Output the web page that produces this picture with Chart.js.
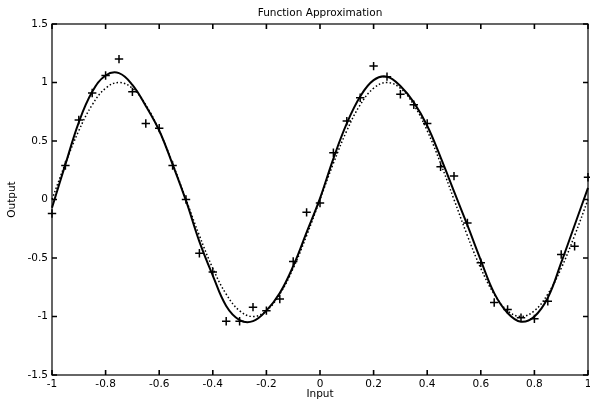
<!DOCTYPE html>
<html>
<head>
<meta charset="utf-8">
<script src="https://cdn.jsdelivr.net/npm/chart.js@4/dist/chart.umd.min.js"></script>
<style>
html,body{margin:0;padding:0;background:#fff;}
canvas{display:block;}
</style>
</head>
<body>
<canvas id="c" width="590" height="403"></canvas>
<script>
// ---- data ----
const inputs = [-1, -0.95, -0.9, -0.85, -0.8, -0.75, -0.7, -0.65, -0.6, -0.55, -0.5, -0.45, -0.4, -0.35, -0.3, -0.25, -0.2, -0.15, -0.1, -0.05, 0, 0.05, 0.1, 0.15, 0.2, 0.25, 0.3, 0.35, 0.4, 0.45, 0.5, 0.55, 0.6, 0.65, 0.7, 0.75, 0.8, 0.85, 0.9, 0.95, 1];
const targets = [-0.12, 0.29, 0.68, 0.91, 1.06, 1.20, 0.92, 0.65, 0.61, 0.29, 0.00, -0.46, -0.62, -1.04, -1.04, -0.92, -0.95, -0.85, -0.53, -0.11, -0.03, 0.40, 0.67, 0.87, 1.14, 1.05, 0.90, 0.81, 0.65, 0.28, 0.20, -0.20, -0.54, -0.88, -0.94, -1.01, -1.02, -0.87, -0.47, -0.40, 0.19];
const networkOutput = [-0.07, 0.30, 0.66, 0.92, 1.06, 1.08, 0.98, 0.80, 0.59, 0.30, -0.01, -0.36, -0.65, -0.91, -1.03, -1.04, -0.95, -0.80, -0.57, -0.28, 0.01, 0.35, 0.65, 0.88, 1.02, 1.05, 0.97, 0.83, 0.63, 0.36, 0.07, -0.22, -0.52, -0.80, -0.97, -1.045, -1.00, -0.84, -0.54, -0.22, 0.10];
const trueFunction = [0, 0.309, 0.588, 0.809, 0.951, 1, 0.951, 0.809, 0.588, 0.309, 0, -0.309, -0.588, -0.809, -0.951, -1, -0.951, -0.809, -0.588, -0.309, 0, 0.309, 0.588, 0.809, 0.951, 1, 0.951, 0.809, 0.588, 0.309, 0, -0.309, -0.588, -0.809, -0.951, -1, -0.951, -0.809, -0.588, -0.309, 0];
const xTickValues = [-1, -0.8, -0.6, -0.4, -0.2, 0, 0.2, 0.4, 0.6, 0.8, 1];
const xTickLabels = ['-1', '-0.8', '-0.6', '-0.4', '-0.2', '0', '0.2', '0.4', '0.6', '0.8', '1'];
const yTickValues = [-1.5, -1, -0.5, 0, 0.5, 1, 1.5];
const yTickLabels = ['-1.5', '-1', '-0.5', '0', '0.5', '1', '1.5'];
const titleText = 'Function Approximation';
const xTitle = 'Input';
const yTitle = 'Output';

const pts = arr => inputs.map((x, i) => ({x: x, y: arr[i]}));
const FONT = {family: '"DejaVu Sans", sans-serif', size: 10.5};

const bgPlugin = {
  id: 'bg',
  beforeDraw(chart) {
    const c = chart.ctx;
    c.save(); c.fillStyle = '#fff'; c.fillRect(0, 0, chart.width, chart.height); c.restore();
  }
};
const framePlugin = {
  id: 'frame',
  afterDraw(chart) {
    const c = chart.ctx;
    const {left, right, top, bottom} = chart.chartArea;
    const sx = chart.scales.x, sy = chart.scales.y;
    c.save();
    c.strokeStyle = '#000';
    c.lineWidth = 1.2;
    c.strokeRect(left, top, right - left, bottom - top);
    c.lineWidth = 1.6;
    c.beginPath();
    sx.ticks.forEach(t => {
      const p = sx.getPixelForValue(t.value);
      c.moveTo(p, bottom); c.lineTo(p, bottom - 5);
      c.moveTo(p, top); c.lineTo(p, top + 5);
    });
    sy.ticks.forEach(t => {
      const p = sy.getPixelForValue(t.value);
      c.moveTo(left, p); c.lineTo(left + 5, p);
      c.moveTo(right, p); c.lineTo(right - 5, p);
    });
    c.stroke();
    c.restore();
  }
};

new Chart(document.getElementById('c'), {
  type: 'scatter',
  data: {
    datasets: [
      {label: 'Targets', data: pts(targets), showLine: false, pointStyle: 'cross', pointRadius: 4.2, pointBorderWidth: 1.5, borderColor: '#000', backgroundColor: '#000', clip: false},
      {label: 'Network output', data: pts(networkOutput), showLine: true, borderColor: '#000', borderWidth: 2, pointRadius: 0, tension: 0.4, fill: false, clip: false},
      {label: 'Function', data: pts(trueFunction), showLine: true, borderColor: '#000', borderWidth: 1.5, borderDash: [1.5, 2.2], pointRadius: 0, tension: 0.4, fill: false, clip: false}
    ]
  },
  options: {
    responsive: false,
    animation: false,
    devicePixelRatio: 1,
    events: [],
    layout: {autoPadding: false, padding: {left: 0, right: 2, top: 0, bottom: 0}},
    plugins: {legend: {display: false}, tooltip: {enabled: false}, title: {display: false}},
    scales: {
      x: {
        type: 'linear', position: 'bottom', min: -1, max: 1,
        afterBuildTicks: s => { s.ticks = xTickValues.map(v => ({value: v})); },
        ticks: {callback: v => xTickLabels[xTickValues.indexOf(v)], font: FONT, color: '#000', padding: 3, maxRotation: 0, autoSkip: false},
        grid: {display: false, drawTicks: false},
        border: {display: false},
        title: {display: true, text: xTitle, font: FONT, color: '#000', padding: {top: 0, bottom: 2}},
        afterFit: s => { s.height = 28; s.paddingLeft = 0; s.paddingRight = 0; }
      },
      top: {
        type: 'linear', position: 'top', min: -1, max: 1,
        ticks: {display: false},
        grid: {display: false, drawTicks: false},
        border: {display: false},
        title: {display: true, text: titleText, font: FONT, color: '#000', padding: {top: 7, bottom: 0}},
        afterFit: s => { s.height = 24; s.paddingLeft = 0; s.paddingRight = 0; }
      },
      y: {
        type: 'linear', position: 'left', min: -1.5, max: 1.5,
        afterBuildTicks: s => { s.ticks = yTickValues.map(v => ({value: v})); },
        ticks: {callback: v => yTickLabels[yTickValues.indexOf(v)], font: FONT, color: '#000', padding: 4, autoSkip: false},
        grid: {display: false, drawTicks: false},
        border: {display: false},
        title: {display: true, text: yTitle, font: FONT, color: '#000', padding: {top: 6, bottom: 0}},
        afterFit: s => { s.width = 52; s.paddingTop = 0; s.paddingBottom = 0; }
      }
    }
  },
  plugins: [bgPlugin, framePlugin]
});
</script>
</body>
</html>
